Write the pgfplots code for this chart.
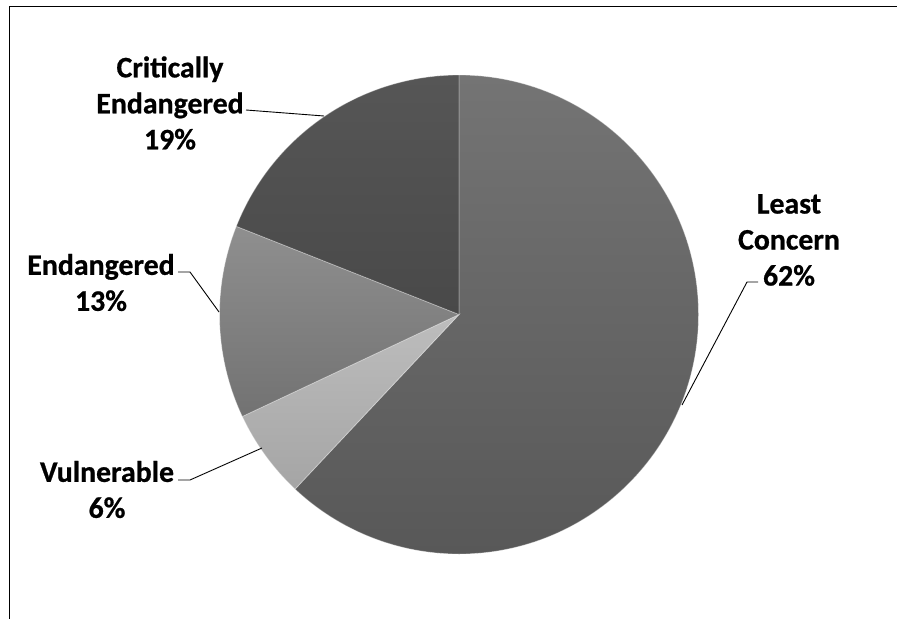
\documentclass[border=0pt]{standalone}
\usepackage{pgfplots}
\usepackage{pgfplotstable}
\pgfplotsset{compat=1.18}
\usepackage{fontspec}
\setmainfont{Carlito}[BoldFeatures={FakeBold=0.7}]

% share of species in each threat category (percent)
\pgfplotstableread{
status value
LC 62
V  6
E  13
CE 19
}\statustable

\definecolor{lcTop}{HTML}{747474}\definecolor{lcBot}{HTML}{585858}
\definecolor{vTop}{HTML}{BDBDBD}\definecolor{vBot}{HTML}{A5A5A5}
\definecolor{eTop}{HTML}{8F8F8F}\definecolor{eBot}{HTML}{727272}
\definecolor{ceTop}{HTML}{565656}\definecolor{ceBot}{HTML}{494949}

\begin{document}
\begin{tikzpicture}
% page area
\useasboundingbox (0,0) rectangle (897bp,619bp);
% slice angles, clockwise from twelve o'clock
\pgfplotstablegetelem{0}{value}\of\statustable \let\vLC\pgfplotsretval
\pgfplotstablegetelem{1}{value}\of\statustable \let\vV\pgfplotsretval
\pgfplotstablegetelem{2}{value}\of\statustable \let\vE\pgfplotsretval
\pgfplotstablegetelem{3}{value}\of\statustable \let\vCE\pgfplotsretval
\pgfmathsetmacro\aA{90}
\pgfmathsetmacro\aB{\aA-3.6*\vLC}
\pgfmathsetmacro\aC{\aB-3.6*\vV}
\pgfmathsetmacro\aD{\aC-3.6*\vE}
\pgfmathsetmacro\aE{\aD-3.6*\vCE}
\def\R{239.5bp}
\begin{axis}[
  at={(0,0)}, anchor=south west,
  scale only axis, width=897bp, height=619bp,
  xmin=0, xmax=897, ymin=0, ymax=619, y dir=reverse,
  hide axis, clip=false,
]
\tikzset{slice/.style={draw=white, draw opacity=0.35, line width=0.8bp}}
\def\ctr{(axis cs:459,314.5)}
\path[slice, top color=lcTop, bottom color=lcBot]
  \ctr -- ++(\aA:\R) arc[start angle=\aA, end angle=\aB, radius=\R] -- cycle;
\path[slice, top color=vTop, bottom color=vBot]
  \ctr -- ++(\aB:\R) arc[start angle=\aB, end angle=\aC, radius=\R] -- cycle;
\path[slice, top color=eTop, bottom color=eBot]
  \ctr -- ++(\aC:\R) arc[start angle=\aC, end angle=\aD, radius=\R] -- cycle;
\path[slice, top color=ceTop, bottom color=ceBot]
  \ctr -- ++(\aD:\R) arc[start angle=\aD, end angle=\aE, radius=\R] -- cycle;

% chart frame (left and top edges)
\draw[line width=1.5bp] (axis cs:9.5,619) -- (axis cs:9.5,6.5) -- (axis cs:897,6.5);

% leader lines
\draw[line width=0.9bp] (axis cs:246,110) -- (axis cs:324,116);
\draw[line width=0.9bp] (axis cs:178,272) -- (axis cs:190,272) -- (axis cs:219,312);
\draw[line width=0.9bp] (axis cs:178,480) -- (axis cs:190,480) -- (axis cs:262,448);
\draw[line width=0.9bp] (axis cs:758,282) -- (axis cs:747,282) -- (axis cs:682,405);

% data labels
\tikzset{lbl/.style={align=center, inner sep=0pt,
  font=\fontsize{29.8bp}{36bp}\selectfont\bfseries}}
\node[lbl] at (axis cs:170,103) {Critically\\Endangered\\19\%};
\node[lbl] at (axis cs:101,282.5) {Endangered\\13\%};
\node[lbl] at (axis cs:107,489.5) {Vulnerable\\6\%};
\node[lbl] at (axis cs:789,240) {Least\\Concern\\62\%};
\end{axis}
\end{tikzpicture}
\end{document}
